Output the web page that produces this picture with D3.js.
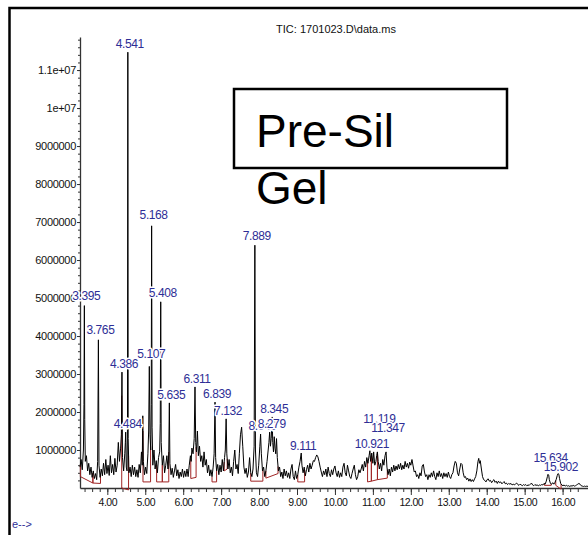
<!DOCTYPE html>
<html>
<head>
<meta charset="utf-8">
<script src="https://cdn.jsdelivr.net/npm/d3@7"></script>
<style>
  body { margin: 0; background: #fff; }
  svg { display: block; font-family: Arial, "Liberation Sans", sans-serif; }
</style>
</head>
<body>
<div class="tic-plot"></div>
<script>
// TIC trace: [retention time (min), abundance (millions)]
const tic = [
  [3.28,.55],[3.31,.75],[3.34,.48],[3.37,1.0],[3.385,2.2],[3.395,4.8],[3.405,1.8],[3.42,.7],[3.45,.85],[3.48,.45],
  [3.51,.65],[3.54,.35],[3.57,.55],[3.60,.28],[3.63,.45],[3.66,.25],[3.69,.38],[3.72,.22],[3.745,.7],[3.765,3.9],
  [3.78,.6],[3.81,.28],[3.84,.5],[3.87,.32],[3.90,.65],[3.93,.35],[3.96,.75],[3.99,.38],[4.02,.6],[4.05,.33],
  [4.08,.85],[4.11,.4],[4.14,.62],[4.17,.35],[4.20,.78],[4.23,.42],[4.26,.6],[4.29,1.2],[4.32,.7],[4.35,1.05],
  [4.37,1.4],[4.386,3.05],[4.40,.8],[4.43,.45],[4.46,.9],[4.475,1.2],[4.484,1.47],[4.50,.55],[4.52,.45],[4.532,1.6],
  [4.541,11.47],[4.55,1.3],[4.57,.4],[4.60,.55],[4.63,.3],[4.66,.6],[4.69,.35],[4.72,.55],[4.75,.3],[4.78,.48],
  [4.81,.28],[4.84,.62],[4.87,.4],[4.90,.95],[4.92,.6],[4.935,1.9],[4.95,.7],[4.98,.35],[5.01,.55],[5.04,.38],
  [5.07,.9],[5.09,1.5],[5.107,3.2],[5.125,1.4],[5.145,1.0],[5.158,2.2],[5.168,6.9],[5.18,1.6],[5.20,.6],[5.23,1.0],
  [5.26,.5],[5.29,.72],[5.32,.4],[5.35,.8],[5.38,.95],[5.395,1.7],[5.408,4.9],[5.42,1.2],[5.45,.6],[5.48,.85],
  [5.51,.4],[5.54,.6],[5.57,.85],[5.60,.5],[5.62,.95],[5.635,2.24],[5.65,.65],[5.68,.35],[5.71,.52],[5.74,.28],
  [5.77,.45],[5.80,.62],[5.83,.32],[5.86,.48],[5.89,.25],[5.92,.42],[5.95,.3],[5.98,.5],[6.01,.28],[6.04,.45],
  [6.07,.3],[6.10,.5],[6.13,.3],[6.16,.6],[6.19,.85],[6.21,.7],[6.23,1.05],[6.26,.9],[6.29,1.3],[6.311,2.66],
  [6.33,1.2],[6.35,.95],[6.375,1.5],[6.40,.85],[6.43,1.1],[6.46,.7],[6.49,.85],[6.52,.55],[6.55,.95],[6.58,.6],
  [6.61,.75],[6.64,.4],[6.67,.6],[6.70,.32],[6.73,.48],[6.76,.3],[6.79,.55],[6.815,.9],[6.839,2.26],[6.855,.8],
  [6.88,.45],[6.91,.62],[6.94,.35],[6.97,.6],[7.00,.42],[7.03,.75],[7.06,.45],[7.09,.8],[7.11,1.0],[7.132,1.82],
  [7.15,.9],[7.18,.5],[7.21,.75],[7.24,.4],[7.27,.55],[7.30,.32],[7.33,.7],[7.36,1.0],[7.39,.5],[7.42,.62],
  [7.45,.38],[7.48,.9],[7.51,1.4],[7.54,1.6],[7.57,1.1],[7.60,.55],[7.63,.38],[7.66,.52],[7.69,.28],[7.72,.42],
  [7.75,.8],[7.78,.4],[7.81,.3],[7.84,.5],[7.87,1.1],[7.889,6.39],[7.905,1.0],[7.93,.4],[7.96,.3],[7.99,.6],
  [8.02,1.1],[8.04,1.42],[8.06,.9],[8.09,.45],[8.12,.55],[8.15,.3],[8.18,.45],[8.21,.7],[8.24,1.0],[8.26,1.2],
  [8.279,1.47],[8.30,1.1],[8.32,1.3],[8.345,1.87],[8.36,1.2],[8.38,.95],[8.40,1.35],[8.42,1.05],[8.44,.9],[8.46,1.3],
  [8.48,.8],[8.51,.45],[8.54,.55],[8.57,.3],[8.60,.42],[8.63,.25],[8.66,.5],[8.69,.32],[8.72,.45],[8.75,.28],
  [8.78,.4],[8.81,.25],[8.84,.5],[8.87,.62],[8.90,.3],[8.93,.22],[8.96,.45],[8.99,.25],[9.02,.35],[9.05,.55],
  [9.08,.7],[9.111,.92],[9.13,.6],[9.16,.4],[9.19,.55],[9.22,.32],[9.25,.48],[9.28,.6],[9.31,.42],[9.34,.65],
  [9.37,.5],[9.40,.6],[9.43,.72],[9.46,.7],[9.49,.8],[9.52,.87],[9.55,.82],[9.58,.7],[9.61,.55],[9.64,.42],
  [9.67,.3],[9.70,.45],[9.73,.35],[9.76,.5],[9.79,.3],[9.82,.55],[9.85,.38],[9.88,.3],[9.91,.48],[9.94,.35],
  [9.97,.5],[10.00,.58],[10.03,.4],[10.06,.3],[10.09,.45],[10.12,.28],[10.15,.4],[10.18,.3],[10.21,.55],[10.24,.65],
  [10.27,.4],[10.30,.32],[10.33,.6],[10.36,.45],[10.39,.3],[10.42,.25],[10.45,.38],[10.48,.5],[10.51,.6],[10.54,.35],
  [10.57,.22],[10.60,.3],[10.63,.48],[10.66,.4],[10.69,.5],[10.72,.62],[10.75,.45],[10.78,.7],[10.81,.55],[10.84,.8],
  [10.87,.65],[10.90,.85],[10.921,.98],[10.94,.7],[10.97,.92],[11.00,.65],[11.02,.95],[11.05,.6],[11.08,.7],[11.10,.85],
  [11.119,.95],[11.14,.7],[11.17,.5],[11.20,.65],[11.23,.45],[11.26,.75],[11.29,.6],[11.32,.85],[11.347,.95],[11.37,.55],
  [11.40,.35],[11.43,.5],[11.46,.32],[11.49,.55],[11.52,.42],[11.55,.6],[11.58,.45],[11.61,.58],[11.64,.48],[11.67,.62],
  [11.70,.5],[11.73,.65],[11.76,.48],[11.79,.6],[11.82,.5],[11.85,.7],[11.88,.55],[11.91,.65],[11.94,.52],[11.97,.68],
  [12.00,.6],[12.03,.75],[12.06,.58],[12.09,.42],[12.12,.45],[12.15,.3],[12.18,.35],[12.21,.25],[12.24,.4],[12.27,.32],
  [12.30,.58],[12.33,.62],[12.36,.42],[12.39,.3],[12.42,.35],[12.45,.22],[12.48,.35],[12.51,.28],[12.54,.4],[12.57,.3],
  [12.60,.45],[12.63,.3],[12.66,.22],[12.69,.4],[12.72,.3],[12.75,.45],[12.78,.3],[12.81,.38],[12.84,.25],[12.87,.4],
  [12.90,.3],[12.93,.38],[12.96,.28],[12.99,.42],[13.02,.3],[13.05,.25],[13.08,.35],[13.11,.4],[13.14,.58],[13.17,.7],
  [13.20,.65],[13.23,.4],[13.26,.32],[13.29,.5],[13.32,.65],[13.35,.62],[13.38,.4],[13.41,.28],[13.44,.3],[13.47,.22],
  [13.50,.26],[13.53,.18],[13.56,.24],[13.59,.17],[13.62,.22],[13.65,.17],[13.68,.24],[13.71,.3],[13.74,.45],[13.77,.7],
  [13.79,.78],[13.81,.65],[13.83,.72],[13.86,.5],[13.89,.3],[13.92,.22],[13.95,.2],[13.98,.16],[14.01,.22],[14.04,.24],
  [14.07,.18],[14.10,.2],[14.13,.14],[14.16,.19],[14.19,.22],[14.22,.15],[14.25,.18],[14.28,.12],[14.31,.18],[14.34,.14],
  [14.37,.16],[14.40,.11],[14.43,.14],[14.46,.17],[14.49,.11],[14.52,.13],[14.55,.09],[14.58,.12],[14.61,.1],[14.64,.12],
  [14.67,.08],[14.70,.1],[14.73,.08],[14.76,.11],[14.79,.13],[14.82,.09],[14.85,.07],[14.88,.1],[14.91,.08],[14.94,.06],
  [14.97,.09],[15.00,.07],[15.03,.09],[15.06,.06],[15.09,.08],[15.12,.07],[15.15,.1],[15.18,.13],[15.21,.08],[15.24,.06],
  [15.27,.09],[15.30,.07],[15.33,.08],[15.36,.06],[15.39,.08],[15.42,.07],[15.45,.09],[15.48,.08],[15.51,.12],[15.54,.1],
  [15.57,.18],[15.60,.3],[15.615,.36],[15.634,.34],[15.65,.22],[15.68,.12],[15.71,.1],[15.74,.14],[15.77,.1],[15.80,.15],
  [15.83,.22],[15.86,.33],[15.88,.38],[15.902,.36],[15.92,.25],[15.95,.12],[15.98,.08],[16.01,.06],[16.04,.08],[16.07,.05],
  [16.10,.07],[16.13,.05],[16.16,.06],[16.19,.04],[16.22,.06],[16.25,.05],[16.28,.07],[16.31,.05],[16.34,.06],[16.37,.08],
  [16.40,.1],[16.43,.12],[16.46,.1],[16.49,.06],[16.52,.05],[16.55,.04],[16.58,.05],[16.61,.04],[16.64,.05],[16.67,.04]
];

// labelled peaks
const peakTimes  = [3.395, 3.765, 4.386, 4.484, 4.541, 5.107, 5.168, 5.408, 5.635, 6.311, 6.839,
                    7.132, 7.889, 8.04, 8.279, 8.345, 9.111, 10.921, 11.119, 11.347, 15.634, 15.902];
const peakNames  = ["3.395","3.765","4.386","4.484","4.541","5.107","5.168","5.408","5.635","6.311","6.839",
                    "7.132","7.889","8.040","8.279","8.345","9.111","10.921","11.119","11.347","15.634","15.902"];
const labelLevel = [4.95, 4.05, 3.16, 1.58, 11.58, 3.42, 7.08, 5.03, 2.34, 2.76, 2.37,
                    1.92, 6.53, 1.53, 1.58, 1.97, 1.0, 1.05, 1.71, 1.47, 0.68, 0.45];

// integration events (red baselines)
const intStart = [3.29, 3.62, 4.38, 4.94, 5.30, 5.45, 6.20, 6.76, 7.08, 7.78, 8.18, 9.02, 10.86, 10.96, 11.12, 15.52, 15.82];
const intEnd   = [3.62, 3.82, 4.56, 5.14, 5.45, 5.62, 6.34, 6.88, 7.16, 8.10, 8.50, 9.20, 10.96, 11.12, 11.38, 15.70, 15.96];
const intBase0 = [0.30, 0.13, 0.00, 0.16, 0.16, 0.16, 0.25, 0.16, 0.45, 0.18, 0.26, 0.16, 0.16, 0.18, 0.22, 0.07, 0.07];
const intBase1 = [0.13, 0.12, -0.05, 0.16, 0.16, 0.16, 0.28, 0.16, 0.50, 0.18, 0.38, 0.16, 0.18, 0.22, 0.26, 0.07, -0.03];

// axis ticks
const xTickValues = [4, 5, 6, 7, 8, 9, 10, 11, 12, 13, 14, 15, 16];
const xTickLabels = ["4.00","5.00","6.00","7.00","8.00","9.00","10.00","11.00","12.00","13.00","14.00","15.00","16.00"];
const yTickValues = [1, 2, 3, 4, 5, 6, 7, 8, 9, 10, 11];
const yTickLabels = ["1000000","2000000","3000000","4000000","5000000","6000000","7000000","8000000","9000000","1e+07","1.1e+07"];

const width = 588;
const height = 535;
const svg = d3.select('.tic-plot')
  .append('svg')
  .attr('width', width)
  .attr('height', height);

const x = d3.scaleLinear().domain([3.28, 16.67]).range([80, 588]);
const y = d3.scaleLinear().domain([0, 11.87]).range([488, 37]);

// page frame
svg.append('path')
  .attr('d', 'M9.5,535V8H588')
  .attr('fill', 'none')
  .attr('stroke', '#000')
  .attr('stroke-width', 2.5);

svg.append('text')
  .attr('x', 336)
  .attr('y', 33)
  .attr('text-anchor', 'middle')
  .attr('font-size', 11)
  .attr('fill', '#111')
  .text('TIC: 1701023.D\\data.ms');

// minor ticks
svg.append('g')
  .attr('transform', 'translate(80,0)')
  .call(d3.axisLeft(y).tickValues(d3.range(0.2, 11.8, 0.2)).tickSize(2).tickFormat(''))
  .call(g => g.select('.domain').remove());
svg.append('g')
  .attr('transform', 'translate(0,488)')
  .call(d3.axisBottom(x).tickValues(d3.range(3.4, 16.6, 0.2)).tickSize(4).tickFormat(''))
  .call(g => g.select('.domain').remove());

// main axes
const yAxis = svg.append('g')
  .attr('transform', 'translate(80,0)')
  .call(d3.axisLeft(y).tickValues(yTickValues).tickFormat((d, i) => yTickLabels[i])
    .tickSize(3).tickSizeOuter(0).tickPadding(1));
yAxis.selectAll('text').attr('font-size', 11).attr('letter-spacing', '-0.3px').attr('fill', '#111');

const xAxis = svg.append('g')
  .attr('transform', 'translate(0,488)')
  .call(d3.axisBottom(x).tickValues(xTickValues).tickFormat((d, i) => xTickLabels[i])
    .tickSize(7).tickSizeOuter(0).tickPadding(4));
xAxis.selectAll('text').attr('font-size', 10.5).attr('letter-spacing', '-0.5px').attr('fill', '#111');

svg.selectAll('.tick line').attr('stroke', '#333');
svg.selectAll('.domain').attr('stroke', '#333').attr('stroke-width', 1.3);

// trace value at any time, for the drop lines
const bis = d3.bisector(d => d[0]).left;
function traceAt(t) {
  const i = Math.max(1, Math.min(tic.length - 1, bis(tic, t)));
  const a = tic[i - 1], b = tic[i];
  return a[1] + (b[1] - a[1]) * (t - a[0]) / (b[0] - a[0]);
}

const line = d3.line().x(d => x(d[0])).y(d => y(d[1]));

// integration baselines
svg.selectAll('path.int')
  .data(intStart)
  .enter()
  .append('path')
  .attr('class', 'int')
  .attr('d', (s, i) => line([
    [s, traceAt(s)], [s, intBase0[i]], [intEnd[i], intBase1[i]], [intEnd[i], traceAt(intEnd[i])]
  ]))
  .attr('fill', 'none')
  .attr('stroke', '#a02424')
  .attr('stroke-width', 1);

// chromatogram
svg.append('path')
  .datum(tic)
  .attr('d', line)
  .attr('fill', 'none')
  .attr('stroke', '#000')
  .attr('stroke-width', 1);

// peak labels with white halo
svg.selectAll('text.peak')
  .data(peakTimes)
  .enter()
  .append('text')
  .attr('class', 'peak')
  .attr('x', d => x(d) + 2)
  .attr('y', (d, i) => y(labelLevel[i]))
  .attr('text-anchor', 'middle')
  .attr('font-size', 12)
  .attr('letter-spacing', '-0.4px')
  .attr('fill', '#2e2e96')
  .attr('stroke', '#fff')
  .attr('stroke-width', 3)
  .attr('stroke-linejoin', 'round')
  .attr('paint-order', 'stroke')
  .text((d, i) => peakNames[i]);

// sample box
svg.append('rect')
  .attr('x', 234)
  .attr('y', 89)
  .attr('width', 273)
  .attr('height', 79)
  .attr('fill', '#fff')
  .attr('stroke', '#000')
  .attr('stroke-width', 2.5);
svg.append('text').attr('x', 256).attr('y', 147).attr('font-size', 46).text('Pre-Sil');
svg.append('text').attr('x', 256).attr('y', 204).attr('font-size', 46).text('Gel');

// what is left of the "Time-->" arrow beside the frame
svg.append('text')
  .attr('x', 12)
  .attr('y', 528)
  .attr('font-size', 11)
  .attr('fill', '#2e2e96')
  .text('e-->');
</script>
</body>
</html>
